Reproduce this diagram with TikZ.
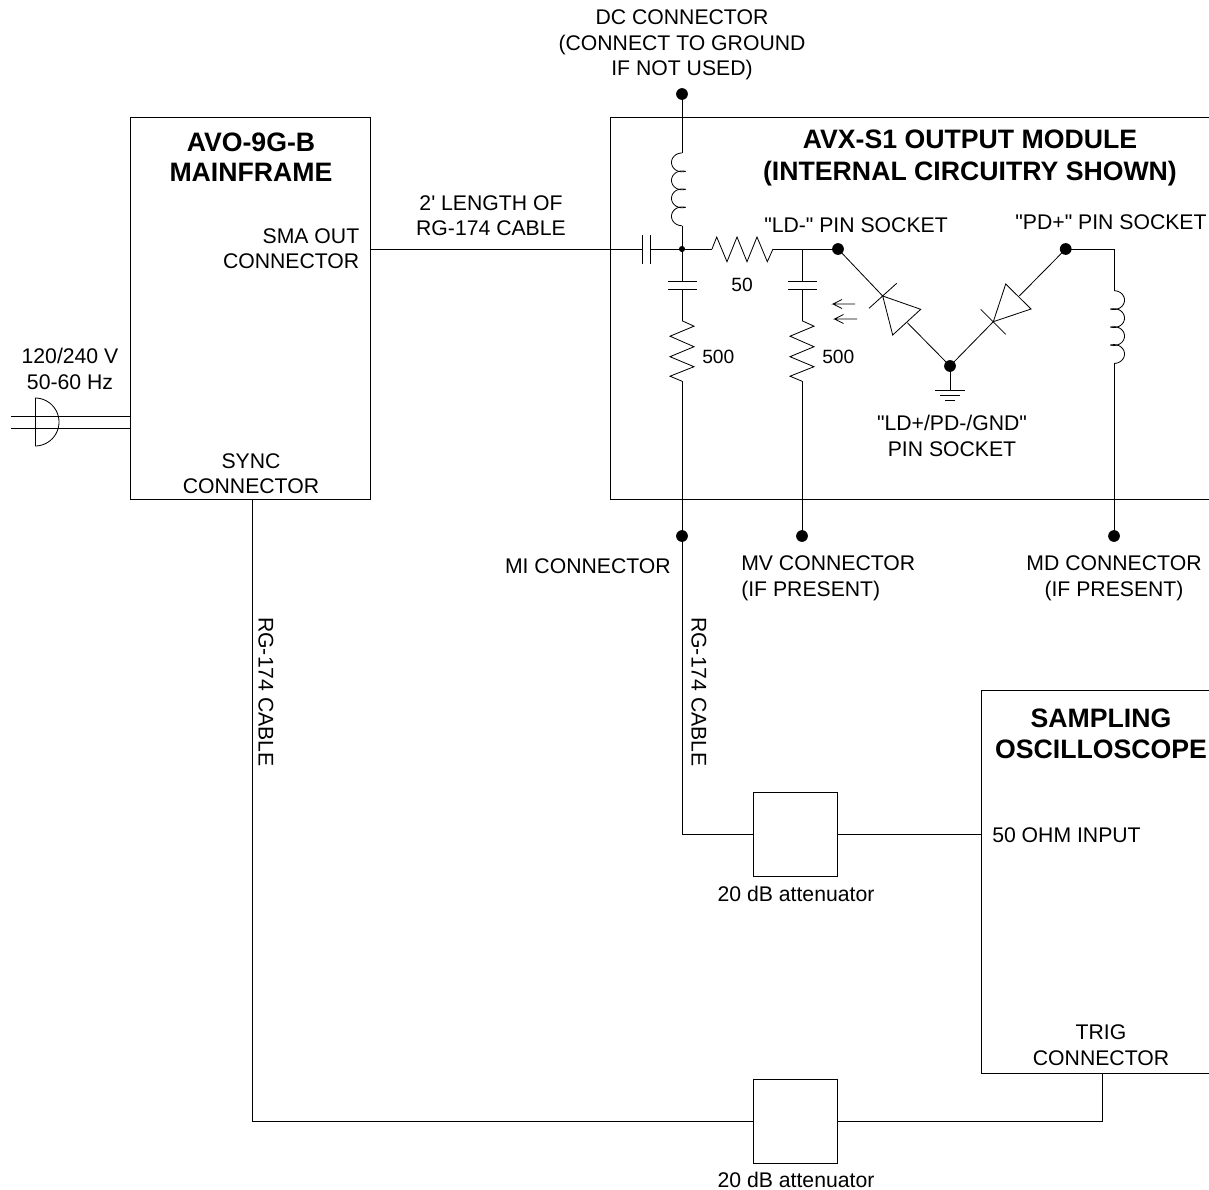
\documentclass[tikz,border=0pt]{standalone}
\usepackage{fontspec}
\setmainfont{Liberation Sans}[Ligatures=TeXOff]
\tikzset{
  wire/.style={line width=0.62pt,black,line join=miter},
  thin wire/.style={line width=0.55pt,black},
  lbl/.style={inner sep=0pt,align=center,font=\fontsize{15.9pt}{19.1pt}\selectfont},
  lblr/.style={inner sep=0pt,align=right,font=\fontsize{15.9pt}{19.1pt}\selectfont},
  lbll/.style={inner sep=0pt,align=left,font=\fontsize{15.9pt}{19.1pt}\selectfont},
  small/.style={inner sep=0pt,font=\fontsize{14.4pt}{17pt}\selectfont},
  head/.style={inner sep=0pt,align=center,font=\fontsize{20pt}{23.4pt}\selectfont\bfseries},
  dot/.style={circle,fill=black,draw=none,inner sep=0pt,minimum size=8.8pt},
  smalldot/.style={circle,fill=black,draw=none,inner sep=0pt,minimum size=4.6pt},
  boxn/.style={rectangle,draw=black,line width=0.7pt,inner sep=0pt,minimum width=63pt,minimum height=63pt}
}
\newcommand{\coilv}[3]{% x, ytop, side
  \foreach \i in {0,1,2,3}{
    \pgfmathsetmacro{\ta}{\i==0?90:70}
    \pgfmathsetmacro{\tb}{\i==3?270:290}
    \pgfmathsetmacro{\yc}{#2+9.4+17.97*\i}
    \draw[wire] plot[domain=\ta:\tb,samples=30,smooth,variable=\t] ({#1+#3*10.5*cos(\t)},{\yc-9.4*sin(\t)});
  }
}
\newcommand{\zigv}[2]{% x, ytop
  \draw[wire] (#1,#2) -- (#1+12,#2+5.5) -- (#1-12,#2+15.5) -- (#1+12,#2+26) -- (#1-12,#2+36) -- (#1+12,#2+46) -- (#1-12,#2+55.5) -- (#1,#2+60.5);
}
\begin{document}
\begin{tikzpicture}[x=0.75pt,y=-0.75pt]
\useasboundingbox (0,0) rectangle (1209,1189);

% main boxes
\node[boxn,minimum width=180pt,minimum height=286.5pt] (avo) at (250.6,308.7) {};
\coordinate (avxTR) at (1209,117.7);
\coordinate (avxTL) at (610.6,117.7);
\coordinate (avxBL) at (610.6,499.7);
\coordinate (avxBR) at (1209,499.7);
\draw[wire,line width=0.7pt] (avxTR) -- (avxTL) -- (avxBL) -- (avxBR);
\coordinate (scTR) at (1209,690.7);
\coordinate (scTL) at (981.6,690.7);
\coordinate (scBL) at (981.6,1073.7);
\coordinate (scBR) at (1209,1073.7);
\draw[wire,line width=0.7pt] (scTR) -- (scTL) -- (scBL) -- (scBR);
\node[boxn] (att1) at (795.6,834.7) {};
\node[boxn] (att2) at (795.6,1121.7) {};

% dots
\node[dot] (dc) at (682,94) {};
\node[smalldot] (junc) at (682,249) {};
\node[dot] (ldm) at (838,249) {};
\node[dot] (pdp) at (1065.7,249) {};
\node[dot] (gnd) at (950,366) {};
\node[dot] (mi) at (682,536) {};
\node[dot] (mv) at (802,536) {};
\node[dot] (md) at (1114,536) {};

% DC line with inductor
\coordinate (l1t) at (682,153);
\coordinate (l1b) at (682,225.7);
\draw[wire] (dc.center) -- (l1t);
\coilv{682}{153}{1}
\draw[wire] (l1b) -- (junc.center);

% input line and series capacitor
\coordinate (c0l) at (642.7,249);
\coordinate (c0r) at (650.7,249);
\draw[wire] (avo.east |- c0l) -- (c0l);
\draw[wire] (c0r) -- (junc.center);
\draw[wire] (642.7,235) -- (642.7,264);
\draw[wire] (650.7,235) -- (650.7,264);

% series resistor and LD- node
\coordinate (r1l) at (712,249);
\coordinate (r1r) at (773,249);
\draw[wire] (junc.center) -- (r1l);
\draw[wire] (r1l) -- (716.7,237) -- (727,261.7) -- (737,237) -- (747,261.7) -- (757,237) -- (767.3,261.7) -- (r1r);
\draw[wire] (r1r) -- (ldm.center);

% MI branch
\coordinate (c1t) at (682,281.3);
\coordinate (c1b) at (682,289);
\coordinate (r2t) at (682,320.7);
\coordinate (r2b) at (682,381.2);
\draw[wire] (junc.center) -- (c1t);
\draw[wire] (668,281.3) -- (696.7,281.3);
\draw[wire] (668,289) -- (696.7,289);
\draw[wire] (c1b) -- (r2t);
\zigv{682}{320.7}
\draw[wire] (r2b) -- (mi.center);
\coordinate (micorner) at (682,834.7);
\draw[wire] (mi.center) -- (micorner) -- (att1.west);

% MV branch
\coordinate (vj) at (802,249);
\coordinate (c2t) at (802,281.3);
\coordinate (c2b) at (802,289);
\coordinate (r3t) at (802,320.7);
\coordinate (r3b) at (802,381.2);
\draw[wire] (vj) -- (c2t);
\draw[wire] (787.7,281.3) -- (816.7,281.3);
\draw[wire] (787.7,289) -- (816.7,289);
\draw[wire] (c2b) -- (r3t);
\zigv{802}{320.7}
\draw[wire] (r3b) -- (mv.center);

% LED arrows
\draw[thin wire] (855,304) -- (833,304) -- (842,299.5) (833,304) -- (842,308.5);
\draw[thin wire] (857,319) -- (834.5,319) -- (843.5,314.5) (834.5,319) -- (843.5,323.5);

% laser diode
\coordinate (d1k) at (882.7,296);
\coordinate (d1a) at (907.3,322.7);
\draw[wire] (ldm.center) -- (d1k);
\draw[wire] (869,308.3) -- (896.7,283.3);
\draw[wire] (d1k) -- (920.7,309.3) -- (892.7,335) -- cycle;
\draw[wire] (d1a) -- (gnd.center);

% photodiode
\coordinate (d2a) at (1019.3,296);
\coordinate (d2k) at (993.3,321.7);
\draw[wire] (pdp.center) -- (d2a);
\draw[wire] (d2k) -- (1005.7,284) -- (1031,309) -- cycle;
\draw[wire] (980.7,309.3) -- (1005.7,334.3);
\draw[wire] (d2k) -- (gnd.center);

% ground
\coordinate (gt) at (950,390);
\draw[wire] (gnd.center) -- (gt);
\draw[wire] (935,390) -- (965,390);
\draw[wire] (940,395) -- (960,395);
\draw[wire] (945,400) -- (955,400);

% MD branch
\coordinate (pc) at (1114,249);
\coordinate (l2t) at (1114,290.7);
\coordinate (l2b) at (1114,363);
\draw[wire] (pdp.center) -- (pc) -- (l2t);
\coilv{1114}{290.7}{-1}
\draw[wire] (l2b) -- (md.center);

% attenuators and oscilloscope
\coordinate (in50) at (981.6,834.7);
\draw[wire] (att1.east) -- (in50);
\coordinate (syncb) at (252,499.7);
\coordinate (syncc) at (252,1121.7);
\draw[wire] (syncb) -- (syncc) -- (att2.west);
\coordinate (trigc) at (1102,1121.7);
\coordinate (trigt) at (1102,1073.7);
\draw[wire] (att2.east) -- (trigc) -- (trigt);

% mains plug
\coordinate (m1) at (11,416.3);
\coordinate (m2) at (11,428);
\draw[wire] (m1) -- (avo.west |- m1);
\draw[wire] (m2) -- (avo.west |- m2);
\draw[wire] (35,398) -- (35,446);
\draw[wire] plot[domain=-90:90,samples=40,smooth,variable=\t] ({35+24*cos(\t)},{422+24*sin(\t)});

% labels
\node[lbl] (tdc) at (682,45) {DC CONNECTOR\\(CONNECT TO GROUND\\IF NOT USED)};
\node[head] (tavo) at (251,157.5) {AVO-9G-B\\[-1pt]MAINFRAME};
\node[lblr,anchor=east] (tsma) at (359.5,248.5) {SMA OUT\\CONNECTOR};
\node[lbl] (tlen) at (491,215.5) {2' LENGTH OF\\RG-174 CABLE};
\node[head] (tavx) at (970,158) {AVX-S1 OUTPUT MODULE\\(INTERNAL CIRCUITRY SHOWN)};
\node[lbl] (tld) at (856,225) {"LD-" PIN SOCKET};
\node[lbl] (tpd) at (1111,222) {"PD+" PIN SOCKET};
\node[small] (t50) at (742,285) {50};
\node[small,anchor=west] (t500a) at (702,357) {500};
\node[small,anchor=west] (t500b) at (822,357) {500};
\node[lbl] (tgnd) at (952,436) {"LD+/PD-/GND"\\PIN SOCKET};
\node[lbl] (tpow) at (70,369) {120/240 V\\50-60 Hz};
\node[lbl] (tsync) at (251,473.5) {SYNC\\CONNECTOR};
\node[lbl,anchor=east] (tmi) at (671,566) {MI CONNECTOR};
\node[lbll,anchor=west] (tmv) at (741,578.5) {MV CONNECTOR\\(IF PRESENT)};
\node[lbl] (tmd) at (1114,578.5) {MD CONNECTOR\\(IF PRESENT)};
\node[lbl,rotate=-90] (trg1) at (266,692) {RG-174 CABLE};
\node[lbl,rotate=-90] (trg2) at (699,692) {RG-174 CABLE};
\node[head] (tsc) at (1101,734) {SAMPLING\\OSCILLOSCOPE};
\node[lbll,anchor=west] (t50o) at (992,835) {50 OHM INPUT};
\node[lbl] (tatt1) at (796,894) {20 dB attenuator};
\node[lbl] (tatt2) at (796,1180) {20 dB attenuator};
\node[lbl] (ttrig) at (1101,1045) {TRIG\\CONNECTOR};
\end{tikzpicture}
\end{document}
